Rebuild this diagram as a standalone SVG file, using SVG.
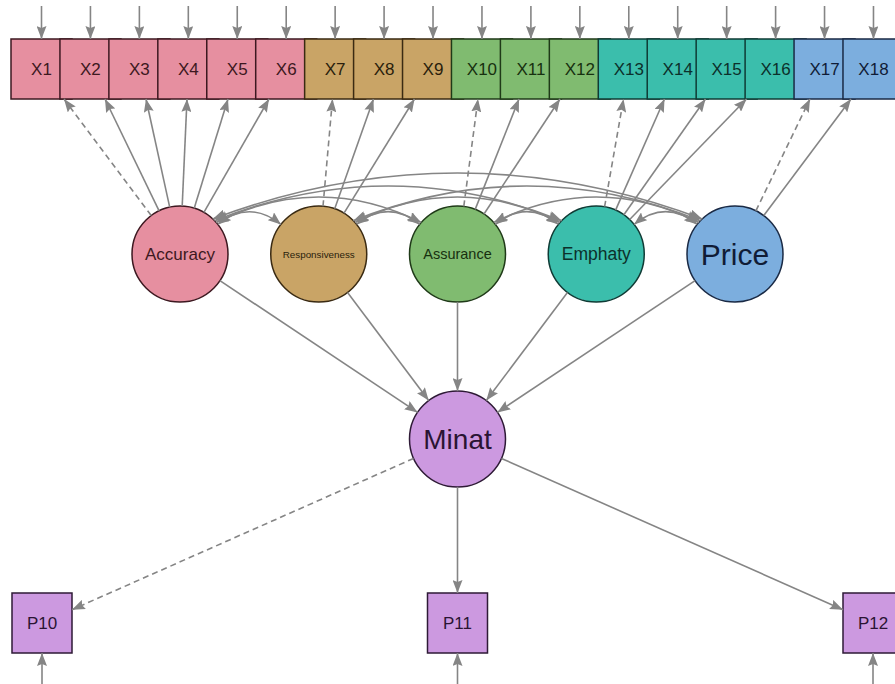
<svg xmlns="http://www.w3.org/2000/svg" width="895" height="684" viewBox="0 0 895 684">
<defs>
<marker id="ah" viewBox="0 0 13 10" refX="13" refY="5" markerWidth="13" markerHeight="10" markerUnits="userSpaceOnUse" orient="auto-start-reverse">
<path d="M0,0 L13,5 L0,10 L2,5 Z" fill="#858585"/>
</marker>
</defs>
<style>
text{font-family:"Liberation Sans",Arial,sans-serif;text-anchor:middle}
.box{stroke-width:1.5}
.lt{stroke-width:1.5}
.pk{fill:#E68FA0;stroke:#3d1820}
.tn{fill:#C9A466;stroke:#3a2a12}
.gr{fill:#80BB70;stroke:#1f3a18}
.tl{fill:#3BBEAC;stroke:#0f3b35}
.bl{fill:#7CAEDE;stroke:#1a2a45}
.pu{fill:#CC99E0;stroke:#2e1a36}
.tpk{fill:#3d1820}.ttn{fill:#2a1e0c}.tgr{fill:#17300f}.ttl{fill:#0c302b}.tbl{fill:#101c36}.tpu{fill:#2a1433}
.xl{font-size:17px}
.e{fill:none;stroke:#858585;stroke-width:1.6;marker-end:url(#ah)}
.d{stroke-dasharray:6,4}
.c{fill:none;stroke:#858585;stroke-width:1.6;marker-start:url(#ah);marker-end:url(#ah)}
</style>
<g id="nodes">
<g id="X1"><rect class="box pk" x="11" y="39" width="61" height="60"/><text class="xl tpk" x="41.5" y="75">X1</text></g>
<g id="X2"><rect class="box pk" x="59.94" y="39" width="61" height="60"/><text class="xl tpk" x="90.44" y="75">X2</text></g>
<g id="X3"><rect class="box pk" x="108.88" y="39" width="61" height="60"/><text class="xl tpk" x="139.38" y="75">X3</text></g>
<g id="X4"><rect class="box pk" x="157.82" y="39" width="61" height="60"/><text class="xl tpk" x="188.32" y="75">X4</text></g>
<g id="X5"><rect class="box pk" x="206.76" y="39" width="61" height="60"/><text class="xl tpk" x="237.26" y="75">X5</text></g>
<g id="X6"><rect class="box pk" x="255.7" y="39" width="61" height="60"/><text class="xl tpk" x="286.2" y="75">X6</text></g>
<g id="X7"><rect class="box tn" x="304.64" y="39" width="61" height="60"/><text class="xl ttn" x="335.14" y="75">X7</text></g>
<g id="X8"><rect class="box tn" x="353.58" y="39" width="61" height="60"/><text class="xl ttn" x="384.08" y="75">X8</text></g>
<g id="X9"><rect class="box tn" x="402.52" y="39" width="61" height="60"/><text class="xl ttn" x="433.02" y="75">X9</text></g>
<g id="X10"><rect class="box gr" x="451.46" y="39" width="61" height="60"/><text class="xl tgr" x="481.96" y="75">X10</text></g>
<g id="X11"><rect class="box gr" x="500.4" y="39" width="61" height="60"/><text class="xl tgr" x="530.9" y="75">X11</text></g>
<g id="X12"><rect class="box gr" x="549.34" y="39" width="61" height="60"/><text class="xl tgr" x="579.84" y="75">X12</text></g>
<g id="X13"><rect class="box tl" x="598.28" y="39" width="61" height="60"/><text class="xl ttl" x="628.78" y="75">X13</text></g>
<g id="X14"><rect class="box tl" x="647.22" y="39" width="61" height="60"/><text class="xl ttl" x="677.72" y="75">X14</text></g>
<g id="X15"><rect class="box tl" x="696.16" y="39" width="61" height="60"/><text class="xl ttl" x="726.66" y="75">X15</text></g>
<g id="X16"><rect class="box tl" x="745.1" y="39" width="61" height="60"/><text class="xl ttl" x="775.6" y="75">X16</text></g>
<g id="X17"><rect class="box bl" x="794.04" y="39" width="61" height="60"/><text class="xl tbl" x="824.54" y="75">X17</text></g>
<g id="X18"><rect class="box bl" x="842.98" y="39" width="61" height="60"/><text class="xl tbl" x="873.48" y="75">X18</text></g>

<g id="Accuracy"><circle class="lt pk" cx="180" cy="254" r="48"/><text class="tpk" x="180" y="260" font-size="17">Accuracy</text></g>
<g id="Responsiveness"><circle class="lt tn" cx="318.75" cy="254" r="48"/><text class="ttn" x="318.75" y="257.5" font-size="9.5" textLength="72" lengthAdjust="spacingAndGlyphs">Responsiveness</text></g>
<g id="Assurance"><circle class="lt gr" cx="457.5" cy="254" r="48"/><text class="tgr" x="457.5" y="259.2" font-size="14.5">Assurance</text></g>
<g id="Emphaty"><circle class="lt tl" cx="596.25" cy="254" r="48"/><text class="ttl" x="596.25" y="260.4" font-size="17.5">Emphaty</text></g>
<g id="Price"><circle class="lt bl" cx="735" cy="254" r="48"/><text class="tbl" x="735" y="264.7" font-size="30">Price</text></g>
<g id="Minat"><circle class="lt pu" cx="457.5" cy="439" r="48"/><text class="tpu" x="457.5" y="449" font-size="28">Minat</text></g>

<g id="P10"><rect class="box pu" x="12" y="593" width="60" height="60"/><text class="xl tpu" x="42" y="629">P10</text></g>
<g id="P11"><rect class="box pu" x="427.5" y="593" width="60" height="60"/><text class="xl tpu" x="457.5" y="629">P11</text></g>
<g id="P12"><rect class="box pu" x="843" y="593" width="60" height="60"/><text class="xl tpu" x="873" y="629">P12</text></g>
</g>

<g id="connectors">
<line class="e" x1="41.5" y1="6" x2="41.5" y2="39"/>
<line class="e" x1="90.44" y1="6" x2="90.44" y2="39"/>
<line class="e" x1="139.38" y1="6" x2="139.38" y2="39"/>
<line class="e" x1="188.32" y1="6" x2="188.32" y2="39"/>
<line class="e" x1="237.26" y1="6" x2="237.26" y2="39"/>
<line class="e" x1="286.2" y1="6" x2="286.2" y2="39"/>
<line class="e" x1="335.14" y1="6" x2="335.14" y2="39"/>
<line class="e" x1="384.08" y1="6" x2="384.08" y2="39"/>
<line class="e" x1="433.02" y1="6" x2="433.02" y2="39"/>
<line class="e" x1="481.96" y1="6" x2="481.96" y2="39"/>
<line class="e" x1="530.9" y1="6" x2="530.9" y2="39"/>
<line class="e" x1="579.84" y1="6" x2="579.84" y2="39"/>
<line class="e" x1="628.78" y1="6" x2="628.78" y2="39"/>
<line class="e" x1="677.72" y1="6" x2="677.72" y2="39"/>
<line class="e" x1="726.66" y1="6" x2="726.66" y2="39"/>
<line class="e" x1="775.6" y1="6" x2="775.6" y2="39"/>
<line class="e" x1="824.54" y1="6" x2="824.54" y2="39"/>
<line class="e" x1="873.48" y1="6" x2="873.48" y2="39"/>
<line class="e" x1="42" y1="684" x2="42" y2="653"/>
<line class="e" x1="457.5" y1="684" x2="457.5" y2="653"/>
<line class="e" x1="873" y1="684" x2="873" y2="653"/>
<line class="e d" x1="151.2" y1="215.6" x2="64" y2="99"/>
<line class="e" x1="159.1" y1="210.8" x2="105" y2="99"/>
<line class="e" x1="169.7" y1="207.1" x2="146" y2="99"/>
<line class="e" x1="182.2" y1="206" x2="187" y2="99"/>
<line class="e" x1="194.2" y1="208.2" x2="228" y2="99"/>
<line class="e" x1="203.9" y1="212.4" x2="269" y2="99"/>
<line class="e d" x1="323" y1="206.2" x2="332.5" y2="99"/>
<line class="e" x1="334.7" y1="208.7" x2="373.5" y2="99"/>
<line class="e" x1="344" y1="213.2" x2="414.5" y2="99"/>
<line class="e d" x1="463.8" y1="206.4" x2="478" y2="99"/>
<line class="e" x1="475.2" y1="209.4" x2="519" y2="99"/>
<line class="e" x1="484" y1="214" x2="560" y2="99"/>
<line class="e d" x1="604.6" y1="206.7" x2="623.5" y2="99"/>
<line class="e" x1="615.6" y1="210.1" x2="664.5" y2="99"/>
<line class="e" x1="623.9" y1="214.8" x2="705.5" y2="99"/>
<line class="e" x1="629.7" y1="219.5" x2="746.5" y2="99"/>
<line class="e d" x1="755.9" y1="210.8" x2="810" y2="99"/>
<line class="e" x1="763.8" y1="215.6" x2="851" y2="99"/>
<path class="c" d="M217.8,224.4 Q249.4,199 281,224.4"/>
<path class="c" d="M356.55,224.4 Q388.1,199 419.7,224.4"/>
<path class="c" d="M495.3,224.4 Q526.9,199 558.45,224.4"/>
<path class="c" d="M634.05,224.4 Q665.6,199 697.2,224.4"/>
<path class="c" d="M216.2,222.5 Q318.75,171.5 421.3,222.5"/>
<path class="c" d="M354.95,222.5 Q457.5,171.5 560.05,222.5"/>
<path class="c" d="M493.7,222.5 Q596.25,171.5 698.8,222.5"/>
<path class="c" d="M214.5,220.7 Q388.1,151.3 561.75,220.7"/>
<path class="c" d="M353.25,220.7 Q526.9,151.3 700.5,220.7"/>
<path class="c" d="M212.7,218.9 Q457.5,127.1 702.3,218.9"/>
<line class="e" x1="219.9" y1="280.6" x2="417.6" y2="412.4"/>
<line class="e" x1="347.55" y1="292.4" x2="428.7" y2="400.6"/>
<line class="e" x1="457.5" y1="302" x2="457.5" y2="391"/>
<line class="e" x1="567.45" y1="292.4" x2="486.3" y2="400.6"/>
<line class="e" x1="695.1" y1="280.6" x2="497.4" y2="412.4"/>
<line class="e d" x1="413.6" y1="458.4" x2="72" y2="609.7"/>
<line class="e" x1="457.5" y1="487" x2="457.5" y2="593"/>
<line class="e" x1="501.4" y1="458.4" x2="843" y2="609.7"/>
</g>
</svg>
